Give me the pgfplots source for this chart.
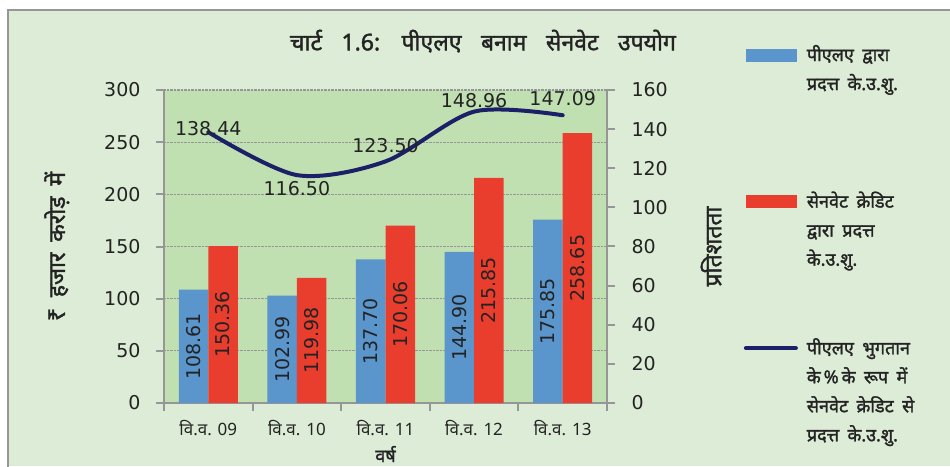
\documentclass[border=0pt]{standalone}
\usepackage{pgfplots}
\pgfplotsset{compat=1.18}
\usepackage{fontspec}
\setmainfont{DejaVu Sans}
\newfontfamily\dev[Script=Devanagari]{Noto Sans}
\newfontfamily\devb[Script=Devanagari,FakeBold=1.6]{Noto Sans}
\newfontfamily\devtt[Script=Devanagari,FakeBold=1.6,WordSpace=1.8]{Noto Sans}
\definecolor{outerbg}{RGB}{221,236,214}
\definecolor{plotbg}{RGB}{193,224,178}
\definecolor{barblue}{RGB}{90,149,203}
\definecolor{barred}{RGB}{233,61,46}
\definecolor{navy}{RGB}{28,32,104}
\definecolor{axgray}{RGB}{150,150,150}
\definecolor{txt}{RGB}{35,35,35}
\pgfkeys{/pgf/number format/assume math mode=true}
\begin{document}
\begin{tikzpicture}[x=1pt,y=1pt]
\useasboundingbox (0,0) rectangle (950,466);
\fill[white] (0,0) rectangle (950,466);
\fill[outerbg] (8,0) rectangle (950,456);
\draw[axgray, line width=2.5pt] (8,-2) -- (8,456) -- (952,456);
\begin{axis}[
  at={(164pt,63pt)}, anchor=south west, scale only axis,
  width=443pt, height=313pt,
  axis background/.style={fill=plotbg},
  xmin=-0.5, xmax=4.5, ymin=0, ymax=300,
  ytick={0,50,...,300},
  xtick={0,1,2,3,4},
  xticklabels={वि.व. 09, वि.व. 10, वि.व. 11, वि.व. 12, वि.व. 13},
  minor xtick={-0.5,0.5,1.5,2.5,3.5,4.5},
  major x tick style={draw=none},
  axis x line*=bottom, axis y line*=left,
  axis line style={draw=axgray, line width=2pt, -},
  tick align=outside,
  major tick length=8pt, minor tick length=8pt,
  tick style={draw=axgray, line width=2pt},
  ymajorgrids, grid style={draw=axgray, densely dotted, line width=1.3pt},
  yticklabel style={font=\fontsize{19}{19}\selectfont, text=txt, xshift=-12pt},
  xticklabel style={font=\dev\fontsize{17}{17}\selectfont, text=txt, yshift=-6pt},
  ylabel={\devb ₹ हजार करोड़ में},
  ylabel style={font=\fontsize{23}{23}\selectfont, text=txt, at={(axis description cs:-0.242,0.5)}, anchor=center},
  xlabel={\devb वर्ष},
  xlabel style={font=\fontsize{18}{18}\selectfont, text=txt, at={(axis description cs:0.5,-0.163)}, anchor=center},
  ybar=0pt, bar width=0.333,
  visualization depends on=y \as \rawy,
  nodes near coords={\pgfmathprintnumber[fixed,fixed zerofill,precision=2]{\pgfplotspointmeta}},
  every node near coord/.append style={shift={(axis direction cs:0,-\rawy/2)}, rotate=90, anchor=center, font=\fontsize{19}{19}\selectfont, text=txt},
]
\addplot[fill=barblue, draw=none] coordinates {(0,108.61) (1,102.99) (2,137.70) (3,144.90) (4,175.85)};
\addplot[fill=barred, draw=none] coordinates {(0,150.36) (1,119.98) (2,170.06) (3,215.85) (4,258.65)};
\end{axis}
\begin{axis}[
  at={(164pt,63pt)}, anchor=south west, scale only axis,
  width=443pt, height=313pt,
  xmin=-0.5, xmax=4.5, ymin=0, ymax=160,
  ytick={0,20,...,160},
  axis x line=none, axis y line*=right,
  axis line style={draw=axgray, line width=2pt, -},
  tick align=outside, major tick length=8pt,
  tick style={draw=axgray, line width=2pt},
  yticklabel style={font=\fontsize{19}{19}\selectfont, text=txt, xshift=13pt},
  ylabel={\devb प्रतिशतता},
  ylabel style={font=\fontsize{23}{23}\selectfont, text=txt, at={(axis description cs:1.235,0.5)}, anchor=center, rotate=0},
  title={\devtt चार्ट 1.6: पीएलए बनाम सेनवेट उपयोग},
  title style={font=\fontsize{23}{23}\selectfont, text=txt, at={(axis description cs:0.72,1.137)}, anchor=center},
  legend style={draw=none, fill=none, at={(axis description cs:1.309,1.144)}, anchor=north west,
    inner sep=0pt, outer sep=0pt, column sep=9pt, row sep=71pt,
    cells={anchor=north west},
    nodes={inner sep=0pt, align=left, text=txt, font=\devb\fontsize{18}{29}\selectfont}},
]
\addlegendimage{legend image code/.code={\fill[barblue] (0pt,-16pt) rectangle (50pt,-4pt);}}
\addlegendentry{पीएलए द्वारा\\प्रदत्त के.उ.शु.\\\strut}
\addlegendimage{legend image code/.code={\fill[barred] (0pt,-16pt) rectangle (50pt,-4pt);}}
\addlegendentry{सेनवेट क्रेडिट\\द्वारा प्रदत्त\\के.उ.शु.}
\addplot[navy, line width=4pt, line cap=round, smooth, mark=none,
  legend image code/.code={\draw[navy, line width=4pt, line cap=round] (0pt,-10pt) -- (50pt,-10pt);},
  nodes near coords={\pgfmathprintnumber[fixed,fixed zerofill,precision=2]{\pgfplotspointmeta}},
  point meta=explicit,
  visualization depends on={value \thisrow{dy} \as \dy},
  every node near coord/.append style={anchor=center, yshift=\dy pt, font=\fontsize{19}{19}\selectfont, text=txt}]
  table[x=x, y=y, meta=y] {
x y dy
0 138.44 4
1 116.50 -13
2 123.50 16
3 148.96 11
4 147.09 17
};
\addlegendentry{पीएलए भुगतान\\के\,\%\,के रूप में\\सेनवेट क्रेडिट से\\प्रदत्त के.उ.शु.}
\end{axis}
\end{tikzpicture}
\end{document}
